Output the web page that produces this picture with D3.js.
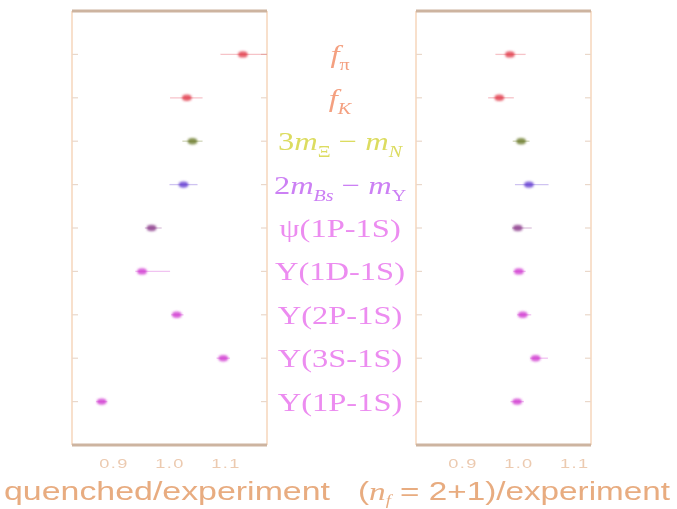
<!DOCTYPE html>
<html><head><meta charset="utf-8">
<script src="https://cdn.jsdelivr.net/npm/d3@7"></script>
<style>body{margin:0;background:#fff}</style>
</head><body>
<svg id="chart" width="677" height="509"></svg>
<script>
// Ratios of lattice results to experiment, one row per quantity
const categories = ["fpi", "fK", "3mXi-mN", "2mBs-mUps", "psi1P1S", "Ups1D1S", "Ups2P1S", "Ups3S1S", "Ups1P1S"];
// label pieces: [text, kind]  kind: "" upright, "i" italic, "s" subscript, "is" italic subscript
const labelParts = [
  [["f", "i"], ["π", "s"]],
  [["f", "i"], ["K", "is"]],
  [["3", ""], ["m", "i"], ["Ξ", "s"], [" − ", ""], ["m", "i"], ["N", "is"]],
  [["2", ""], ["m", "i"], ["Bs", "is"], [" − ", ""], ["m", "i"], ["Υ", "s"]],
  [["ψ(1P-1S)", ""]],
  [["Υ(1D-1S)", ""]],
  [["Υ(2P-1S)", ""]],
  [["Υ(3S-1S)", ""]],
  [["Υ(1P-1S)", ""]]
];
const quenchedValues = [1.13, 1.03, 1.04, 1.024, 0.967, 0.95, 1.012, 1.095, 0.878];
const quenchedErrLow = [0.04, 0.03, 0.018, 0.025, 0.012, 0.012, 0.01, 0.012, 0.01];
const quenchedErrHigh = [0.05, 0.028, 0.018, 0.025, 0.018, 0.05, 0.012, 0.012, 0.01];
const dynamicValues = [0.984, 0.965, 1.004, 1.018, 0.998, 1.0, 1.007, 1.03, 0.997];
const dynamicErrLow = [0.026, 0.02, 0.015, 0.025, 0.01, 0.01, 0.01, 0.01, 0.012];
const dynamicErrHigh = [0.028, 0.026, 0.015, 0.035, 0.025, 0.012, 0.015, 0.022, 0.012];
const tickValues = [0.9, 1.0, 1.1];
const tickLabels = ["0.9", "1.0", "1.1"];
const pointColors = ["#e03848", "#e03848", "#687826", "#6038d0", "#8a3a8a", "#d038d0", "#d038d0", "#d038d0", "#d038d0"];
const labelColors = ["#f4a080", "#f4a080", "#dcdc60", "#cc80f4", "#ec8cf0", "#ec8cf0", "#ec8cf0", "#ec8cf0", "#ec8cf0"];

const svg = d3.select("#chart");
const defs = svg.append("defs");
defs.append("filter").attr("id", "soft").attr("x", "-10%").attr("y", "-10%").attr("width", "120%").attr("height", "120%")
  .append("feGaussianBlur").attr("stdDeviation", 0.75);
defs.append("filter").attr("id", "glow").attr("x", "-100%").attr("y", "-100%").attr("width", "300%").attr("height", "300%")
  .append("feGaussianBlur").attr("stdDeviation", 1.2);

const root = svg.append("g").attr("filter", "url(#soft)");

const frameTop = 11, frameBottom = 445;
const y = d3.scalePoint().domain(categories).range([frameTop, frameBottom]).padding(1);

const panels = [
  { id: "q", x: d3.scaleLinear().domain([0.825, 1.173]).range([72, 267]),
    values: quenchedValues, lo: quenchedErrLow, hi: quenchedErrHigh },
  { id: "d", x: d3.scaleLinear().domain([0.816, 1.129]).range([416, 591]),
    values: dynamicValues, lo: dynamicErrLow, hi: dynamicErrHigh }
];

panels.forEach(p => {
  const [x0, x1] = p.x.range();
  const g = root.append("g");
  defs.append("clipPath").attr("id", "clip-" + p.id)
    .append("rect").attr("x", x0).attr("y", frameTop).attr("width", x1 - x0).attr("height", frameBottom - frameTop);

  // frame: light sides, heavier top and bottom
  g.append("line").attr("x1", x0).attr("x2", x0).attr("y1", frameTop).attr("y2", frameBottom).attr("stroke", "#f8e0cc").attr("stroke-width", 2);
  g.append("line").attr("x1", x1).attr("x2", x1).attr("y1", frameTop).attr("y2", frameBottom).attr("stroke", "#f8e0cc").attr("stroke-width", 2);
  g.append("line").attr("x1", x0).attr("x2", x1).attr("y1", frameTop).attr("y2", frameTop).attr("stroke", "#cdb4a0").attr("stroke-width", 3);
  g.append("line").attr("x1", x0).attr("x2", x1).attr("y1", frameBottom).attr("y2", frameBottom).attr("stroke", "#cdb4a0").attr("stroke-width", 3);

  // row ticks on both sides
  g.selectAll(".lt").data(categories).join("line")
    .attr("x1", x0).attr("x2", x0 + 6).attr("y1", d => y(d)).attr("y2", d => y(d))
    .attr("stroke", "#ead8ca").attr("stroke-width", 1.2);
  g.selectAll(".rt").data(categories).join("line")
    .attr("x1", x1 - 6).attr("x2", x1).attr("y1", d => y(d)).attr("y2", d => y(d))
    .attr("stroke", "#ead8ca").attr("stroke-width", 1.2);

  // bottom axis tick labels
  g.selectAll(".tl").data(tickValues).join("text")
    .attr("transform", (d) => `translate(${p.x(d)},468) scale(1.4,1)`)
    .attr("text-anchor", "middle")
    .attr("font-family", "Liberation Sans, Arial, sans-serif").attr("font-size", 13)
    .attr("letter-spacing", 1)
    .attr("fill", "#eccab0")
    .text((d, i) => tickLabels[i]);

  const rows = categories.map((c, i) => ({ c, v: p.values[i], lo: p.values[i] - p.lo[i], hi: p.values[i] + p.hi[i], col: pointColors[i] }));
  const marks = g.append("g").attr("clip-path", `url(#clip-${p.id})`);
  marks.selectAll(".err").data(rows).join("line")
    .attr("x1", d => p.x(d.lo)).attr("x2", d => p.x(d.hi))
    .attr("y1", d => y(d.c)).attr("y2", d => y(d.c))
    .attr("stroke", d => d.col).attr("stroke-opacity", 0.3).attr("stroke-width", 1.3);
  marks.selectAll(".pt").data(rows).join("ellipse")
    .attr("cx", d => p.x(d.v)).attr("cy", d => y(d.c))
    .attr("rx", 4.8).attr("ry", 3.2)
    .attr("fill", d => d.col).attr("fill-opacity", 0.8)
    .attr("filter", "url(#glow)");
});

// quantity labels between the panels
const labelX = 340;
const lab = root.append("g").selectAll("text").data(categories).join("text")
  .attr("transform", d => `translate(${labelX},${y(d) + 9}) scale(1.25,1)`)
  .attr("text-anchor", "middle")
  .attr("font-family", "Liberation Serif, Times New Roman, serif")
  .attr("font-size", 26)
  .attr("fill", (d, i) => labelColors[i]);
lab.each(function (d, i) {
  const t = d3.select(this);
  let shifted = false;
  labelParts[i].forEach(([txt, kind]) => {
    const sp = t.append("tspan").text(txt);
    const isSub = kind === "s" || kind === "is";
    if (kind === "i" || kind === "is") sp.attr("font-style", "italic");
    if (isSub && !shifted) { sp.attr("dy", 7).attr("font-size", 16); shifted = true; }
    else if (isSub) sp.attr("font-size", 16);
    else if (!isSub && shifted) { sp.attr("dy", -7); shifted = false; }
  });
});

// panel titles
const titleFont = "Liberation Sans, Arial, sans-serif";
root.append("text").attr("x", 4).attr("y", 500)
  .attr("font-family", titleFont).attr("font-size", 25).attr("fill", "#e8ac80")
  .attr("textLength", 326).attr("lengthAdjust", "spacingAndGlyphs")
  .text("quenched/experiment");
const t2 = root.append("text").attr("x", 358).attr("y", 500)
  .attr("font-family", titleFont).attr("font-size", 25).attr("fill", "#e8ac80")
  .attr("textLength", 312).attr("lengthAdjust", "spacingAndGlyphs");
t2.append("tspan").text("(");
t2.append("tspan").attr("font-family", "Liberation Serif, serif").attr("font-style", "italic").text("n");
t2.append("tspan").attr("font-family", "Liberation Serif, serif").attr("font-style", "italic").attr("font-size", 14).attr("dy", 5).text("f");
t2.append("tspan").attr("dy", -5).text(" = 2+1)/experiment");
</script>
</body></html>
